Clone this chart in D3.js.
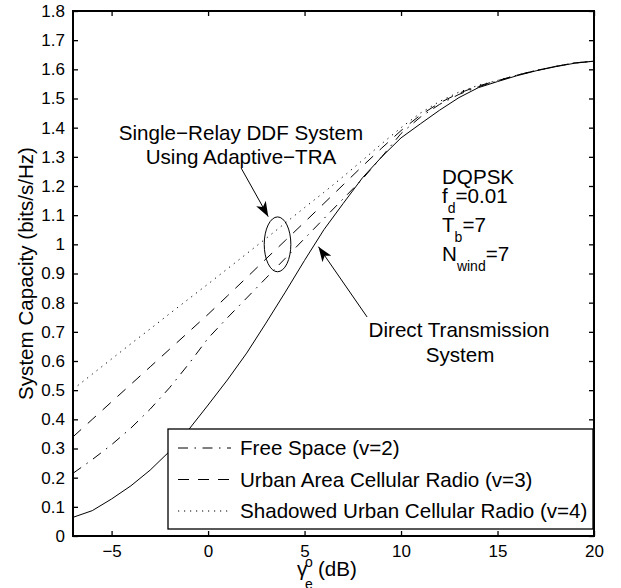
<!DOCTYPE html>
<html>
<head>
<meta charset="utf-8">
<script src="https://cdn.jsdelivr.net/npm/d3@7.9.0/dist/d3.min.js"></script>
<style>
  body { margin: 0; background: #fff; }
  svg { display: block; font-family: 'Liberation Sans', Arial, sans-serif; }
</style>
</head>
<body>
<div id="chart"></div>
<script>
// SNR values (dB)
const snr = [-7, -6, -5, -4, -3, -2, -1, 0, 1, 2, 3, 4, 5, 6, 7, 8, 9, 10,
  11, 12, 13, 14, 15, 16, 17, 18, 19, 20];

// capacity curves
const directTx = [0.064, 0.087, 0.127, 0.172, 0.226, 0.290, 0.365, 0.449, 0.535, 0.627,
  0.730, 0.836, 0.945, 1.050, 1.140, 1.228, 1.300, 1.365, 1.413, 1.460, 1.503, 1.537,
  1.558, 1.578, 1.595, 1.609, 1.621, 1.628];
const freeSpace = [0.215, 0.262, 0.313, 0.370, 0.435, 0.508, 0.590, 0.678, 0.748, 0.816,
  0.884, 0.952, 1.020, 1.088, 1.156, 1.224, 1.300, 1.380, 1.436, 1.480, 1.514, 1.540,
  1.560, 1.580, 1.596, 1.610, 1.622, 1.628];
const urbanArea = [0.340, 0.400, 0.460, 0.520, 0.580, 0.640, 0.700, 0.760, 0.823, 0.886,
  0.950, 1.013, 1.076, 1.140, 1.204, 1.268, 1.330, 1.390, 1.443, 1.485, 1.518, 1.543,
  1.561, 1.580, 1.596, 1.610, 1.622, 1.628];
const shadowed = [0.503, 0.555, 0.607, 0.659, 0.710, 0.762, 0.813, 0.864, 0.916, 0.968,
  1.020, 1.073, 1.126, 1.178, 1.232, 1.288, 1.345, 1.400, 1.450, 1.490, 1.522, 1.545,
  1.562, 1.580, 1.596, 1.610, 1.622, 1.628];

const legendLabels = ['Free Space (v=2)', 'Urban Area Cellular Radio (v=3)',
  'Shadowed Urban Cellular Radio (v=4)'];
const xTicks = [-5, 0, 5, 10, 15, 20];
const yTicks = d3.range(0, 19).map((i) => i / 10);

const width = 621;
const height = 588;
const margin = { top: 11, right: 27, bottom: 52, left: 73 };
const textSize = '20.6px';

const svg = d3.select('#chart').append('svg')
  .attr('width', width)
  .attr('height', height);

const x = d3.scaleLinear().domain([-7, 20]).range([margin.left, width - margin.right]);
const y = d3.scaleLinear().domain([0, 1.8]).range([height - margin.bottom, margin.top]);

// arrow head marker, matlab-ish swept back style
const defs = svg.append('defs');
defs.append('marker')
  .attr('id', 'head')
  .attr('viewBox', '0 0 15 11')
  .attr('refX', 15)
  .attr('refY', 5.5)
  .attr('markerWidth', 15)
  .attr('markerHeight', 11)
  .attr('markerUnits', 'userSpaceOnUse')
  .attr('orient', 'auto')
  .append('path')
  .attr('d', 'M15,5.5 L0,0 L4,5.5 L0,11 Z')
  .attr('fill', '#000');

const series = [
  { values: directTx, dash: null },
  { values: freeSpace, dash: '10,6.5,1.5,6.5' },
  { values: urbanArea, dash: '11,9' },
  { values: shadowed, dash: '1.2,4.8' },
];

const line = d3.line()
  .x((d) => x(d[0]))
  .y((d) => y(d[1]));

svg.append('g')
  .selectAll('path')
  .data(series)
  .join('path')
  .attr('d', (s) => line(snr.map((v, i) => [v, s.values[i]])))
  .attr('fill', 'none')
  .attr('stroke', '#000')
  .attr('stroke-width', 1)
  .attr('stroke-dasharray', (s) => s.dash);

// axes, ticks inside like matlab
const gx = svg.append('g')
  .attr('transform', `translate(0,${y(0)})`)
  .call(d3.axisBottom(x).tickValues(xTicks).tickSize(-5).tickPadding(9));
const gxTop = svg.append('g')
  .attr('transform', `translate(0,${y(1.8)})`)
  .call(d3.axisTop(x).tickValues(xTicks).tickSize(-5).tickFormat(''));
const gy = svg.append('g')
  .attr('transform', `translate(${x(-7)},0)`)
  .call(d3.axisLeft(y).tickValues(yTicks).tickSize(-5).tickPadding(8)
    .tickFormat((d) => d3.format('~g')(d)));
const gyRight = svg.append('g')
  .attr('transform', `translate(${x(20)},0)`)
  .call(d3.axisRight(y).tickValues(yTicks).tickSize(-5).tickFormat(''));

[gx, gxTop, gy, gyRight].forEach((g) => {
  g.select('.domain').remove();
  g.selectAll('.tick line').attr('stroke', '#000').attr('stroke-width', 1.3);
  g.selectAll('.tick text')
    .attr('fill', '#000')
    .style('font-size', '17px')
    .style('font-family', "'Liberation Sans', Arial, sans-serif");
});

svg.append('rect')
  .attr('x', x(-7))
  .attr('y', y(1.8))
  .attr('width', x(20) - x(-7))
  .attr('height', y(0) - y(1.8))
  .attr('fill', 'none')
  .attr('stroke', '#000')
  .attr('stroke-width', 2);

// axis labels
svg.append('text')
  .attr('transform', `translate(33,${(y(0) + y(1.8)) / 2}) rotate(-90)`)
  .attr('text-anchor', 'middle')
  .style('font-size', textSize)
  .text('System Capacity (bits/s/Hz)');

const xl = svg.append('text').style('font-size', textSize);
xl.append('tspan').attr('x', 297).attr('y', 576).text('γ');
xl.append('tspan').attr('x', 305).attr('y', 567).style('font-size', '14px').text('o');
xl.append('tspan').attr('x', 305).attr('y', 589).style('font-size', '14px').text('e');
xl.append('tspan').attr('x', 318).attr('y', 576).text('(dB)');

// legend
const legend = svg.append('g');
legend.append('rect')
  .attr('x', 168)
  .attr('y', 429)
  .attr('width', x(20) - 1 - 168)
  .attr('height', 100)
  .attr('fill', '#fff')
  .attr('stroke', '#000')
  .attr('stroke-width', 1.3);

const rows = legend.selectAll('g.row')
  .data(legendLabels)
  .join('g')
  .attr('class', 'row')
  .attr('transform', (d, i) => `translate(0,${448 + i * 31.5})`);

rows.append('line')
  .attr('x1', 178)
  .attr('x2', 231)
  .attr('stroke', '#000')
  .attr('stroke-width', 1)
  .attr('stroke-dasharray', (d, i) => series[i + 1].dash);

rows.append('text')
  .attr('x', 240)
  .attr('y', 7)
  .style('font-size', textSize)
  .text((d) => d);

// annotations
const note = svg.append('g').style('font-size', textSize);
note.append('text').attr('x', 241).attr('y', 140).attr('text-anchor', 'middle')
  .text('Single\u2212Relay DDF System');
note.append('text').attr('x', 241).attr('y', 164).attr('text-anchor', 'middle')
  .text('Using Adaptive\u2212TRA');
note.append('text').attr('x', 459).attr('y', 337).attr('text-anchor', 'middle')
  .text('Direct Transmission');
note.append('text').attr('x', 460).attr('y', 362).attr('text-anchor', 'middle')
  .text('System');

note.append('text').attr('x', 442).attr('y', 184).text('DQPSK');
const sub = (yy, main, s, rest) => {
  const t = note.append('text').attr('x', 442).attr('y', yy);
  t.append('tspan').text(main);
  t.append('tspan').attr('dy', 10).style('font-size', '14px').text(s);
  t.append('tspan').attr('dy', -10).text(rest);
};
sub(203, 'f', 'd', '=0.01');
sub(232, 'T', 'b', '=7');
sub(261, 'N', 'wind', '=7');

// ellipse around relay curves
svg.append('ellipse')
  .attr('cx', x(3.6))
  .attr('cy', y(1.0))
  .attr('rx', x(3.6 + 0.69) - x(3.6))
  .attr('ry', y(1.0) - y(1.094))
  .attr('fill', 'none')
  .attr('stroke', '#000')
  .attr('stroke-width', 1);

// arrows
const arrows = [
  { from: [1.71, 1.262], to: [3.12, 1.095] },
  { from: [8.24, 0.751], to: [5.72, 0.992] },
];
svg.append('g')
  .selectAll('line')
  .data(arrows)
  .join('line')
  .attr('x1', (d) => x(d.from[0]))
  .attr('y1', (d) => y(d.from[1]))
  .attr('x2', (d) => x(d.to[0]))
  .attr('y2', (d) => y(d.to[1]))
  .attr('stroke', '#000')
  .attr('stroke-width', 1)
  .attr('marker-end', 'url(#head)');
</script>
</body>
</html>
